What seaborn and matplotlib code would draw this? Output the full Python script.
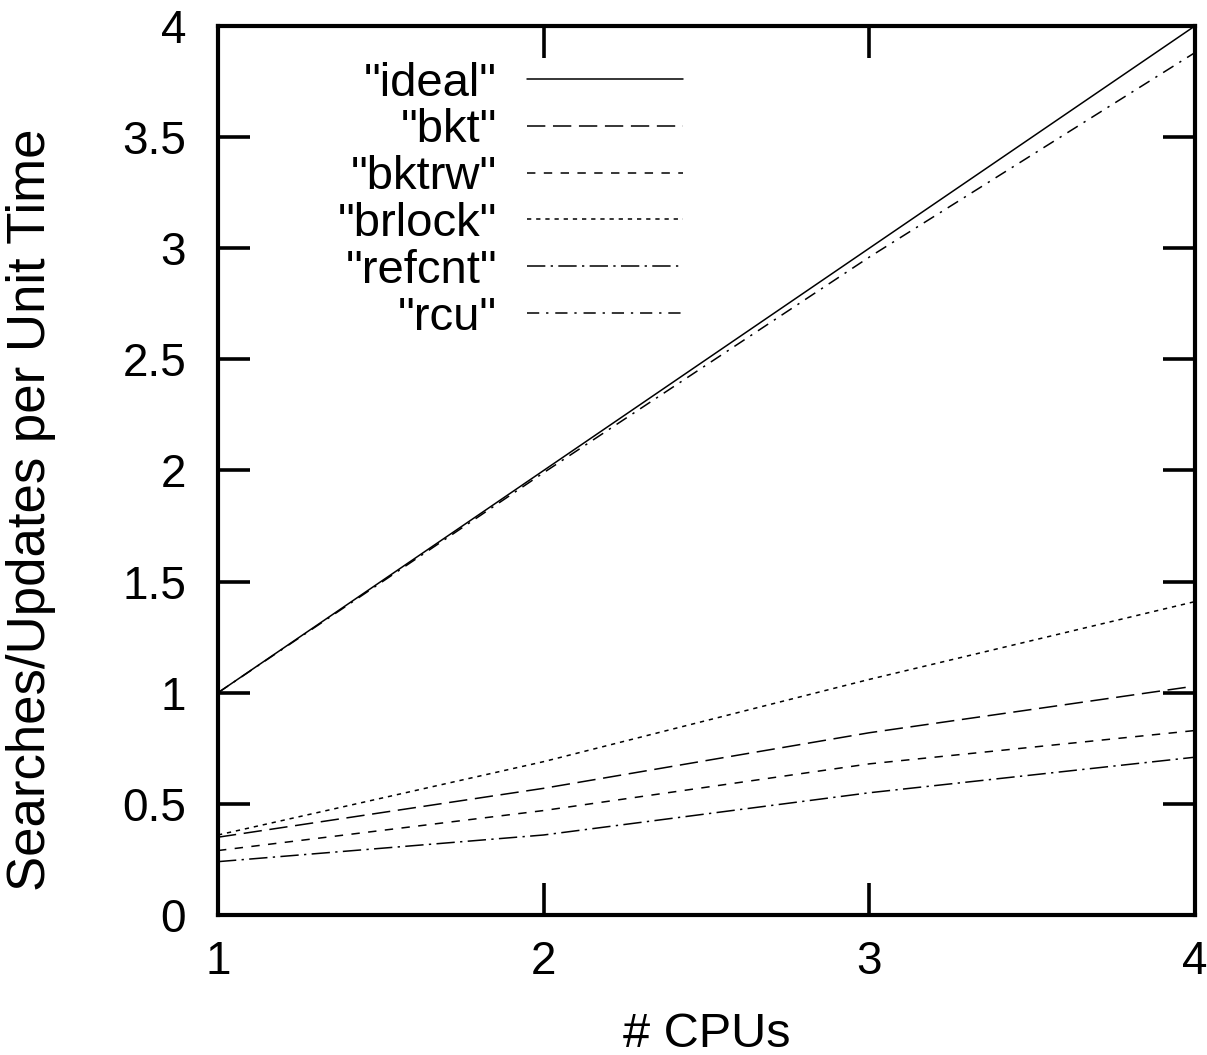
import numpy as np
import matplotlib
matplotlib.use('Agg')
import matplotlib.pyplot as plt
import pandas as pd
import seaborn as sns

# data
cpus = [1, 2, 3, 4]
ideal = [1.0, 2.0, 3.0, 4.0]
bkt = [0.35, 0.57, 0.82, 1.03]
bktrw = [0.29, 0.47, 0.68, 0.83]
brlock = [0.36, 0.69, 1.06, 1.41]
refcnt = [0.24, 0.36, 0.55, 0.71]
rcu = [1.0, 1.99, 2.96, 3.88]

names = ['"ideal"', '"bkt"', '"bktrw"', '"brlock"', '"refcnt"', '"rcu"']
series = [ideal, bkt, bktrw, brlock, refcnt, rcu]

df = pd.DataFrame({
    'cpus': cpus * len(names),
    'value': [v for s in series for v in s],
    'series': [n for n in names for _ in cpus],
})

sns.set_style('ticks')
plt.rcParams['font.family'] = ['Liberation Sans', 'DejaVu Sans']
plt.rcParams['text.color'] = 'black'
plt.rcParams['axes.labelcolor'] = 'black'
plt.rcParams['xtick.color'] = 'black'
plt.rcParams['ytick.color'] = 'black'
plt.rcParams['axes.edgecolor'] = 'black'

dash_styles = {
    '"ideal"': '',
    '"bkt"': (12, 5),
    '"bktrw"': (5.5, 5.5),
    '"brlock"': (2.8, 3.2),
    '"refcnt"': (12, 3.5, 1.5, 3.5),
    '"rcu"': (8, 4.5, 1.5, 4.5),
}

fig = plt.figure(figsize=(12.07, 10.55), dpi=100)
ax = fig.add_axes([0.1806, 0.1327, 0.8094, 0.8427])

sns.lineplot(data=df, x='cpus', y='value', style='series', dashes=dash_styles,
             color='black', linewidth=1.1, ax=ax, legend='full')

ax.set_xlim(1, 4)
ax.set_ylim(0, 4)
ax.set_xticks([1, 2, 3, 4])
ax.set_yticks(np.arange(0, 4.01, 0.5))
ax.set_yticklabels(['0', '0.5', '1', '1.5', '2', '2.5', '3', '3.5', '4'])

for sp in ax.spines.values():
    sp.set_visible(True)
    sp.set_linewidth(3)
ax.tick_params(direction='in', length=23, width=2.6, labelsize=33,
               top=True, right=True)
ax.tick_params(axis='y', pad=23)
ax.tick_params(axis='x', pad=18)

ax.set_xlabel('# CPUs', fontsize=35, labelpad=20)
ax.set_ylabel('Searches/Updates per Unit Time', fontsize=38)
ax.yaxis.set_label_coords(-0.166, 0.456)

leg = ax.legend(loc='upper right', bbox_to_anchor=(0.476, 0.96), frameon=False,
                markerfirst=False, fontsize=34, handlelength=3.3,
                handletextpad=0.64, labelspacing=0.06, borderpad=0,
                borderaxespad=0)
for t in leg.get_texts():
    t.set_ha('right')

fig.savefig('out.png', dpi=100)
